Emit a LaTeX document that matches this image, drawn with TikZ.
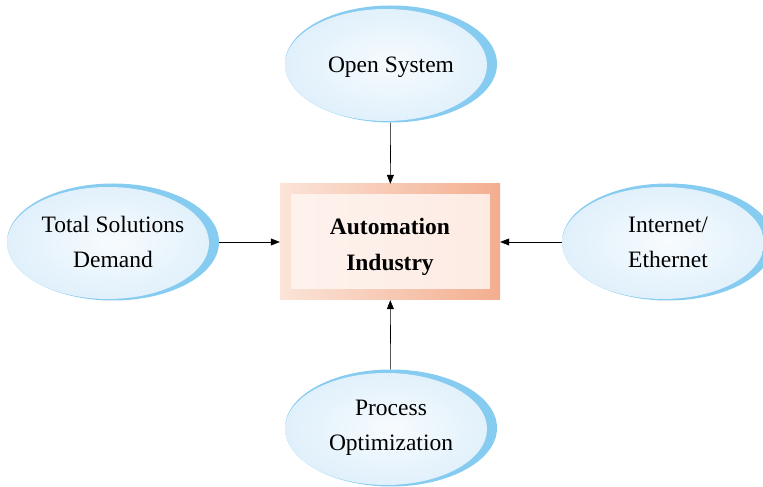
\documentclass[tikz,border=0pt]{standalone}
\usepackage{fontspec}
\setmainfont{Liberation Serif}
\usepackage{xcolor}
\usetikzlibrary{shapes.geometric, arrows.meta, positioning, calc}

\definecolor{skyedge}{HTML}{86CBF0}
\definecolor{skyring}{HTML}{E0F0FB}
\definecolor{skycore}{HTML}{F7FBFE}
\definecolor{peachlo}{HTML}{FBE4D8}
\definecolor{peachhi}{HTML}{F3AE8F}
\definecolor{peachin}{HTML}{FFF6F2}

\begin{document}
\begin{tikzpicture}[
    x=1pt, y=1pt,
    goal/.style={
        ellipse, minimum width=212pt, minimum height=117pt, inner sep=0pt,
        align=center, font=\fontsize{23.5}{35}\selectfont, fill=skyedge,
        execute at begin node={\rule{0pt}{22pt}},
        path picture={
            \shade[inner color=skycore, outer color=skyring]
                ($(path picture bounding box.center)+(-5pt,-1pt)$)
                ellipse [x radius=101pt, y radius=56pt];
        }
    },
    core/.style={
        rectangle, minimum width=220pt, minimum height=116pt, inner sep=0pt,
        align=center, font=\fontsize{23.5}{36}\selectfont\bfseries,
        left color=peachlo, right color=peachhi,
        path picture={
            \fill[peachin, opacity=0.85]
                ($(path picture bounding box.south west)+(11pt,11pt)$)
                rectangle ($(path picture bounding box.north east)-(10pt,10pt)$);
        }
    },
    arrow/.style={-{Triangle[length=9pt, width=7pt]}, semithick, black}
]
    \useasboundingbox (0,0) rectangle (763,487);

    \node[core] (AI) at (390, 245) {\rule{0pt}{27pt}Automation\\Industry};

    \node[goal] (OS) at (391, 423) {Open System};
    \node[goal] (TS) at (113, 245) {Total Solutions\\Demand};
    \node[goal] (IE) at (668, 245) {Internet/\\Ethernet};
    \node[goal] (PO) at (391, 59)  {Process\\Optimization};

    \draw[arrow] (OS) -- (AI);
    \draw[arrow] (TS) -- (AI);
    \draw[arrow] (IE) -- (AI);
    \draw[arrow] (PO) -- (AI);
\end{tikzpicture}
\end{document}
